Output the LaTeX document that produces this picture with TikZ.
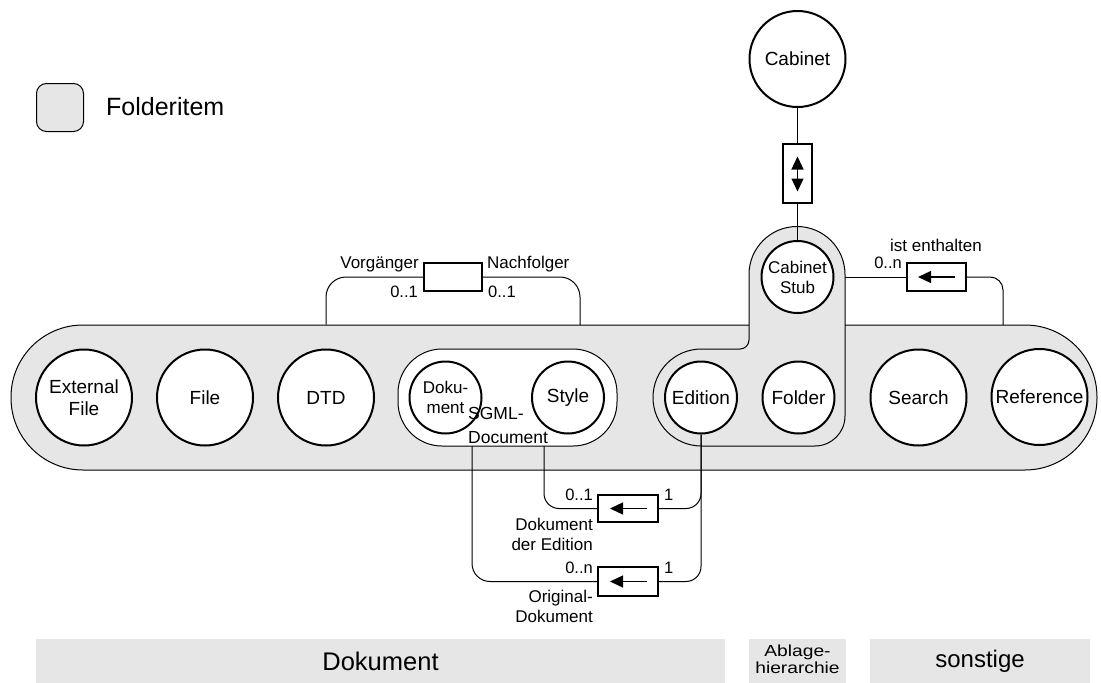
\documentclass[tikz,border=0pt]{standalone}
\usepackage{fontspec}
\setmainfont{Liberation Sans}
\usetikzlibrary{arrows.meta,calc}
\definecolor{itemgray}{HTML}{E6E6E6}
\newcommand{\sizedfont}[2]{\fontsize{#1pt}{#2pt}\selectfont}
\begin{document}
\begin{tikzpicture}[x=1pt,y=1pt,yscale=-1,
  bigcirc/.style={circle,draw,line width=2pt,fill=white,minimum size=96pt,inner sep=0pt,align=center,font=\sizedfont{19}{22}},
  smallcirc/.style={circle,draw,line width=2pt,fill=white,minimum size=72pt,inner sep=0pt,align=center,font=\sizedfont{19}{22}},
  relbox/.style={draw,line width=2pt,fill=white,inner sep=0pt,minimum width=58pt,minimum height=28pt},
  lbl/.style={inner sep=0pt,font=\sizedfont{17}{20}},
  mult/.style={inner sep=0pt,font=\sizedfont{16.5}{20}},
  conn/.style={line width=1pt},
  boxarrow/.style={line width=1.3pt,-{Triangle[length=13pt,width=12pt]}},
  bar/.style={fill=itemgray,inner sep=0pt,minimum height=44pt},
  outline/.style={draw,line width=1pt}
]
\useasboundingbox (0,0) rectangle (1101,683);

% legend
\node[outline,fill=itemgray,rounded corners=10pt,minimum width=47pt,minimum height=48pt,inner sep=0pt] (legbox) at (60,107.5) {};
\node[anchor=base west,inner sep=0pt,font=\sizedfont{25}{30}] (legtxt) at (106,115) {Folderitem};

% folder item band
\node[outline,fill=itemgray,rounded corners=72pt,minimum width=1086pt,minimum height=145pt,inner sep=0pt] (band) at (554,397.5) {};

% SGML document group
\node[outline,fill=white,rounded corners=44pt,minimum width=219pt,minimum height=97pt,inner sep=0pt] (sgml) at (507.5,397.5) {};

% edition / folder group joined with the cabinet stub
\draw[line width=1pt,fill=itemgray] (701.5,349) -- (740,349)
  arc[start angle=90,end angle=0,radius=9] -- (749,274.5)
  arc[start angle=180,end angle=360,radius=48] -- (845,416)
  arc[start angle=0,end angle=90,radius=30] -- (701.5,446)
  arc[start angle=90,end angle=270,radius=48.5] -- cycle;

% item classes
\node[bigcirc] (extfile) at (84,397.5) {External\\File};
\node[bigcirc] (file) at (205,397.5) {File};
\node[bigcirc] (dtd) at (326,397.5) {DTD};
\node[smallcirc,font=\sizedfont{17}{20}] (dok) at (445.5,397.5) {Doku-\\ment};
\node[smallcirc] (style) at (568,397.5) {Style};
\node[smallcirc] (edition) at (701,397.5) {Edition};
\node[smallcirc] (folder) at (798.5,397.5) {Folder};
\node[bigcirc] (search) at (918.5,397.5) {Search};
\node[bigcirc] (reference) at (1039.5,397) {Reference};
\node[smallcirc,font=\sizedfont{17}{20}] (stub) at (797.5,277) {Cabinet\\Stub};
\node[bigcirc] (cabinet) at (797.5,59) {Cabinet};

\node[inner sep=0pt,anchor=north west,align=left,font=\sizedfont{17.5}{24}] (sgmltxt) at (468,407.5) {SGML-\\Document};

% relationship boxes
\node[relbox] (vn) at (453,277) {};
\node[relbox,minimum width=29pt,minimum height=59pt] (cb) at (797.5,173.5) {};
\node[relbox,minimum width=59pt] (ie) at (936.5,277) {};
\node[relbox,minimum width=60pt,minimum height=27pt] (de) at (628,508.5) {};
\node[relbox,minimum width=60pt,minimum height=29pt] (od) at (628,581.5) {};

\draw[line width=1.3pt,{Triangle[length=13pt,width=12pt]}-{Triangle[length=13pt,width=12pt]}]
  ($(cb.center)+(0,-17)$) -- ($(cb.center)+(0,18)$);
\draw[boxarrow] ($(ie.center)+(18.5,0)$) -- ($(ie.center)+(-18.5,0)$);
\draw[boxarrow] ($(de.center)+(19,0)$) -- ($(de.center)+(-18,0)$);
\draw[boxarrow] ($(od.center)+(19,0)$) -- ($(od.center)+(-18,0)$);

% connectors
\coordinate (nfoot) at (580,325);
\coordinate (stubedge) at (845,277);
\coordinate (iefoot) at (1003,325);
\coordinate (sgA) at (472,446);
\coordinate (sgB) at (544,446);

\draw[conn,rounded corners=20pt] (dtd |- band.north) |- (vn.west);
\draw[conn,rounded corners=20pt] (vn.east) -| (nfoot);
\draw[conn] (cabinet) -- (cb);
\draw[conn] (cb) -- (stub);
\draw[conn] (stubedge) -- (ie.west);
\draw[conn,rounded corners=13pt] (ie.east) -| (iefoot);
\draw[conn,rounded corners=15pt] (sgB) |- (de.west);
\draw[conn,rounded corners=15pt] (edition.south) |- (de.east);
\draw[conn,rounded corners=15pt] (edition.south) |- (od.east);
\draw[conn,rounded corners=18pt] (sgA) |- (od.west);

% labels
\node[lbl,anchor=base east] (lvorg) at (419,268) {Vorgänger};
\node[lbl,anchor=base west] (lnach) at (487,268) {Nachfolger};
\node[mult,anchor=base east] (lvorgm) at (418,297) {0..1};
\node[mult,anchor=base west] (lnachm) at (488,297) {0..1};
\node[lbl,anchor=base] (lie) at (936,251) {ist enthalten};
\node[mult,anchor=base east] (liem) at (902,268) {0..n};
\node[mult,anchor=base east] (ldem) at (593,500) {0..1};
\node[mult,anchor=base west] (lde1) at (664,500) {1};
\node[lbl,anchor=north east,align=right] (lde) at (593,517.8) {Dokument\\der Edition};
\node[mult,anchor=base east] (lodm) at (593,573) {0..n};
\node[mult,anchor=base west] (lod1) at (664,573) {1};
\node[lbl,anchor=north east,align=right] (lod) at (593,589.8) {Original-\\Dokument};

% category bars
\node[bar,minimum width=689pt,font=\sizedfont{25.5}{28}] (bdok) at (380.5,661) {Dokument};
\node[bar,minimum width=97pt,font=\sizedfont{16}{19}] (babl) at (797.5,661)
  {\scalebox{1.2}[1]{\begin{tabular}{@{}c@{}}Ablage-\\[-2pt]hierarchie\end{tabular}}};
\node[bar,minimum width=220pt,font=\sizedfont{24}{28}] (bson) at (980,661) {sonstige};
\end{tikzpicture}
\end{document}
